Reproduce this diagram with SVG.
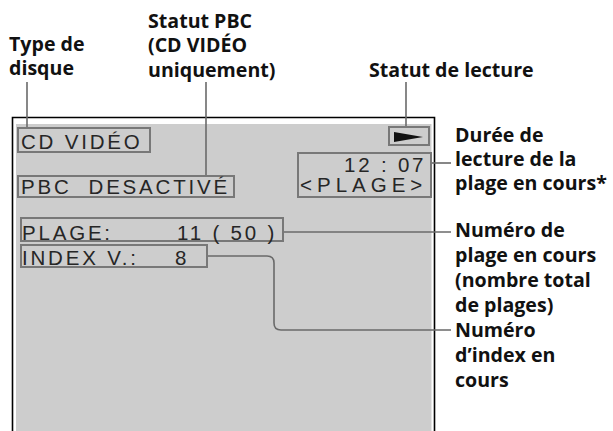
<svg xmlns="http://www.w3.org/2000/svg" width="613" height="431" viewBox="0 0 613 431">
<style>
.lbl{font-family:"Open Sans","Liberation Sans",sans-serif;font-weight:700;font-size:19.6px;fill:#111}
.lcd{font-family:"Liberation Sans",Arial,sans-serif;font-size:20.5px;fill:#262626;letter-spacing:2.8px;white-space:pre}
.box{fill:none;stroke:#787878;stroke-width:2}
.lead{fill:none;stroke:#6a6a6a;stroke-width:1.6}
</style>
<rect width="613" height="431" fill="#fff"/>
<g id="screen">
<rect x="16" y="124" width="415.5" height="310" fill="#cdcdcd"/>
<path d="M12.5 432 V117.5 H434.5 V432" fill="none" stroke="#000" stroke-width="1.6"/>
</g>
<g id="connectors">
<path class="lead" d="M27 82 V128"/>
<path class="lead" d="M206 82 V176"/>
<path class="lead" d="M406 82 V127"/>
<path class="lead" d="M432 163 H451"/>
<path class="lead" d="M284 232 H451"/>
<path class="lead" d="M208 256 H267 Q274 256 274 263 V323 Q274 330 281 330 H451"/>
</g>
<g id="disc-type">
<rect class="box" x="18" y="128" width="132" height="24"/>
<text class="lcd" x="21" y="149">CD VIDÉO</text>
</g>
<g id="pbc-status">
<rect class="box" x="18" y="176" width="216" height="21"/>
<text class="lcd" x="21" y="194">PBC  DESACTIVÉ</text>
</g>
<g id="track">
<rect class="box" x="21" y="218" width="262" height="23"/>
<text class="lcd" x="22" y="239.5">PLAGE:<tspan x="177">11 ( 50 )</tspan></text>
</g>
<g id="index">
<rect class="box" x="21" y="245" width="186" height="22"/>
<text class="lcd" x="22" y="264.5">INDEX V.:<tspan x="175">8</tspan></text>
</g>
<g id="play-status">
<rect class="box" x="389" y="127" width="40" height="18"/>
<polygon points="394,132 423,137 394,142" fill="#111"/>
</g>
<g id="time">
<rect class="box" x="298" y="153" width="133" height="44"/>
<text class="lcd" x="344" y="172">12 : 07</text>
<text class="lcd" x="300" y="192" style="letter-spacing:5px">&lt;PLAGE&gt;</text>
</g>
<g id="label-type">
<text class="lbl" x="9" y="51">Type de</text>
<text class="lbl" x="9" y="75">disque</text>
</g>
<g id="label-pbc">
<text class="lbl" x="148" y="28">Statut PBC</text>
<text class="lbl" x="148" y="52">(CD VIDÉO</text>
<text class="lbl" x="148" y="77">uniquement)</text>
</g>
<g id="label-play">
<text class="lbl" x="369" y="77">Statut de lecture</text>
</g>
<g id="label-time">
<text class="lbl" x="455" y="142">Durée de</text>
<text class="lbl" x="455" y="166">lecture de la</text>
<text class="lbl" x="455" y="190">plage en cours*</text>
</g>
<g id="label-track">
<text class="lbl" x="455" y="237">Numéro de</text>
<text class="lbl" x="455" y="262">plage en cours</text>
<text class="lbl" x="455" y="287">(nombre total</text>
<text class="lbl" x="455" y="312">de plages)</text>
</g>
<g id="label-index">
<text class="lbl" x="455" y="337">Numéro</text>
<text class="lbl" x="455" y="362">d’index en</text>
<text class="lbl" x="455" y="387">cours</text>
</g>
</svg>
